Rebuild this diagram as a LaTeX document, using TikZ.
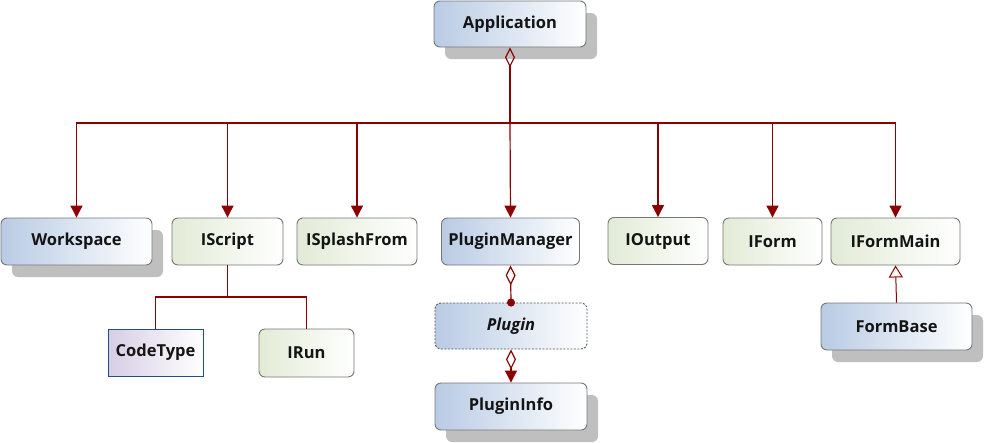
\documentclass[tikz,border=0pt]{standalone}
\usepackage{fontspec}
\setmainfont{Open Sans}
\usetikzlibrary{arrows.meta,shadows}
\definecolor{lineRed}{RGB}{139,0,0}
\definecolor{blueL}{RGB}{185,203,228}
\definecolor{greenL}{RGB}{226,235,214}
\definecolor{purpleL}{RGB}{214,206,228}
\definecolor{borderGray}{RGB}{118,118,118}
\definecolor{borderBlue}{RGB}{31,78,140}
\definecolor{txt}{RGB}{20,20,20}
\begin{document}
\begin{tikzpicture}[x=1pt,y=-1pt,
  box/.style={draw=borderGray, line width=0.9pt, rounded corners=6pt, inner sep=0pt,
    font=\fontsize{16.5}{19}\selectfont\bfseries, text=txt, minimum height=47pt},
  bluebox/.style={box, left color=blueL, right color=white},
  greenbox/.style={box, left color=greenL, right color=white},
  shad/.style={drop shadow={shadow xshift=11pt, shadow yshift=-12pt, fill=black!25, opacity=1}},
  conn/.style={draw=lineRed, line width=1.2pt},
  arr/.style={conn, -{Triangle[length=12pt,width=12pt]}},
  agg/.style={conn, {Diamond[open,length=20pt,width=10pt,line width=1.2pt]}-},
]
\useasboundingbox (0,0) rectangle (984,442);

% nodes
\node[bluebox, shad, minimum width=152pt, minimum height=46pt] (app) at (510,24) {Application};

\node[bluebox, shad, minimum width=151pt] (ws) at (76.5,241.5) {Workspace};
\node[greenbox, minimum width=111pt] (iscript) at (227.5,241.5) {IScript};
\node[greenbox, minimum width=120pt] (isplash) at (357,241.5) {ISplashFrom};
\node[bluebox, minimum width=138pt] (pm) at (510.5,241.5) {PluginManager};
\node[greenbox, minimum width=100pt] (iout) at (658,241) {IOutput};
\node[greenbox, minimum width=99pt] (iform) at (772.5,241.5) {IForm};
\node[greenbox, minimum width=129pt] (ifm) at (895.5,241.5) {IFormMain};

\node[draw=borderBlue, line width=0.9pt, left color=purpleL, right color=white, inner sep=0pt,
  font=\fontsize{16.5}{19}\selectfont\bfseries, text=txt,
  minimum width=95pt, minimum height=47pt] (ct) at (155.5,352.5) {CodeType};
\node[greenbox, minimum width=95pt, minimum height=48pt] (irun) at (306.5,353) {IRun};

\node[bluebox, draw=black!65, dash pattern=on 2pt off 1.5pt, minimum width=152pt, minimum height=46pt,
  font=\fontsize{16.5}{19}\selectfont\bfseries\itshape] (plugin) at (511,326) {Plugin};
\node[bluebox, shad, minimum width=152pt] (pinfo) at (511,406.5) {PluginInfo};

\node[bluebox, shad, minimum width=151pt] (fb) at (896.5,326.5) {FormBase};

% connectors from Application
\coordinate (bus) at (510,123);
\draw[agg] (app.south) -- (bus);
\draw[arr] (bus) -| (ws.north);
\draw[arr] (bus) -| (iscript.north);
\draw[arr] (bus) -| (isplash.north);
\draw[arr] (bus) -- (pm.north);
\draw[arr] (bus) -| (iout.north);
\draw[arr] (bus) -| (iform.north);
\draw[arr] (bus) -| (ifm.north);

% IScript branch
\coordinate (sb) at (227.5,297);
\draw[conn] (iscript.south) -- (sb);
\draw[conn] (sb) -| (ct.north);
\draw[conn] (sb) -| (irun.north);

% PluginManager -> Plugin -> PluginInfo
\draw[conn, {Diamond[open,length=20pt,width=10pt,line width=1.2pt]}-{Circle[length=8pt]}, shorten >=-4pt]
  (pm.south) -- (plugin.north);
\draw[conn, {Diamond[open,length=20pt,width=10pt,line width=1.2pt]}-{Triangle[length=12pt,width=12pt]}]
  (plugin.south) -- (pinfo.north);

% FormBase -> IFormMain (inheritance)
\draw[conn, line width=1pt, -{Triangle[open,length=12pt,width=14pt,line width=1pt]}] (fb.north) -- (ifm.south);
\end{tikzpicture}
\end{document}
